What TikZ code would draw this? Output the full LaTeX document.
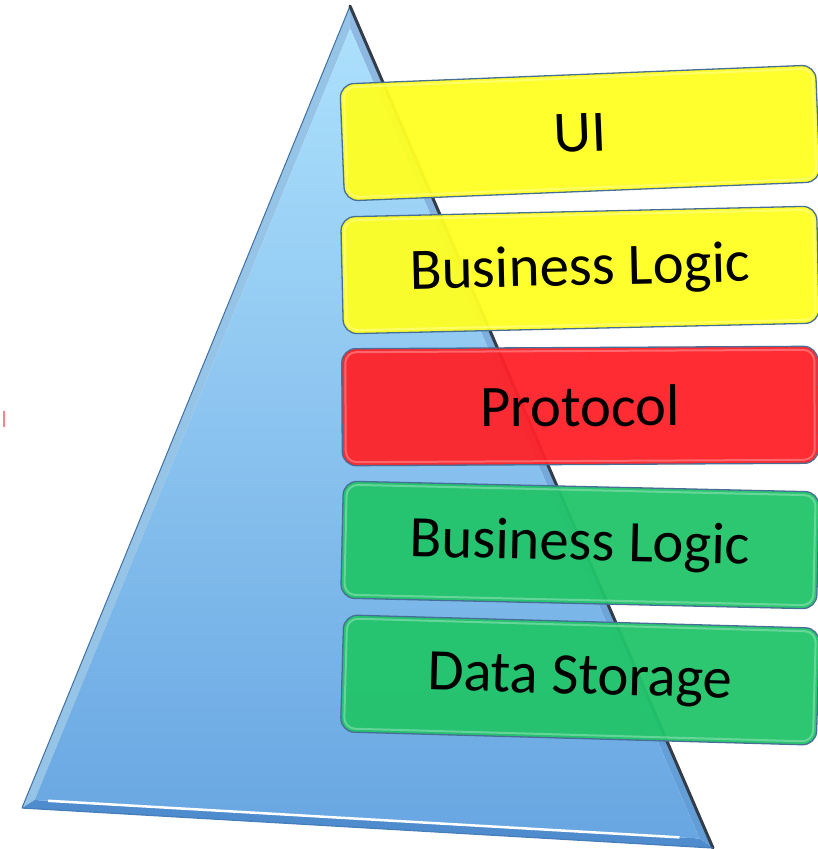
\documentclass[tikz,border=0pt]{standalone}
\usepackage{fontspec}
\setmainfont{Carlito}
\usetikzlibrary{calc}

\definecolor{pyrTop}{RGB}{172,224,252}
\definecolor{pyrBot}{RGB}{104,166,226}
\definecolor{bevelLeft}{RGB}{150,196,230}
\definecolor{bevelBottom}{RGB}{78,140,206}
\definecolor{bevelRight}{RGB}{96,156,214}
\definecolor{rimShadow}{RGB}{52,60,72}
\definecolor{boxEdge}{RGB}{70,110,150}
\definecolor{tierYellow}{RGB}{255,255,34}
\definecolor{tierRed}{RGB}{255,34,40}
\definecolor{tierGreen}{RGB}{34,196,106}
\definecolor{markRed}{RGB}{255,130,140}

\tikzset{
  tier/.style={draw=boxEdge, line width=1.3bp, rounded corners=14bp,
    minimum width=476bp, minimum height=117bp, inner sep=0pt,
    fill opacity=0.95, text opacity=1,
    font=\fontsize{59}{60}\selectfont},
  tierrim/.style={draw=#1!50!white, line width=2bp, rounded corners=11bp,
    minimum width=469bp, minimum height=110bp, inner sep=0pt, draw opacity=0.6}
}

% one layer of the stack: name, centre, angle, colour, label
\newcommand{\tierbox}[5]{%
  \node[tier, fill=#4, rotate=#3] (#1) at (#2) {#5};
  \node[tierrim=#4, rotate=#3] (#1-rim) at (#2) {};
}

\begin{document}
\begin{tikzpicture}[x=1bp,y=-1bp]
\useasboundingbox (0,0) rectangle (818,849);

% pyramid corners and its incentre (used to inset the bevel)
\coordinate (apex) at (350,6);
\coordinate (bl) at (22,808);
\coordinate (br) at (713,848);
\coordinate (inc) at (355.6,597.8);
\coordinate (ia) at ($(inc)!0.962!(apex)$);
\coordinate (ib) at ($(inc)!0.962!(bl)$);
\coordinate (ic) at ($(inc)!0.962!(br)$);

% faint shadow under the base
\draw[black!25, line width=1bp] ([yshift=3bp]bl) -- ([yshift=3bp]br);

% bevel faces
\fill[bevelLeft] (apex) -- (bl) -- (ib) -- (ia) -- cycle;
\fill[bevelBottom] (bl) -- (br) -- (ic) -- (ib) -- cycle;
\shade[top color=bevelRight!70!white, bottom color=bevelRight] (br) -- (apex) -- (ia) -- (ic) -- cycle;

% main face
\shade[top color=pyrTop, bottom color=pyrBot] (ia) -- (ib) -- (ic) -- cycle;

% rim lines
\draw[white, line width=2.5bp] ($(ib)!0.02!(ic)$) -- ($(ib)!0.97!(ic)$);
\draw[bevelBottom!80!black, line width=1bp] (apex) -- (bl);
\draw[rimShadow, line width=3bp, line cap=round] (apex) -- (br);
\draw[bevelBottom!90!black, line width=1.2bp] (bl) -- (br);

% the stack of layers
\tierbox{ui}{580,133}{2.3}{tierYellow}{UI}
\tierbox{bizTop}{580,270}{1.3}{tierYellow}{Business Logic}
\tierbox{proto}{580,406}{0.3}{tierRed}{Protocol}
\tierbox{bizLow}{580,545}{-1.3}{tierGreen}{Business Logic}
\tierbox{store}{580,680}{-1.6}{tierGreen}{Data Storage}

% small red tick at the left margin
\draw[markRed, line width=1.2bp] (4,411) -- (4,427);
\end{tikzpicture}
\end{document}
